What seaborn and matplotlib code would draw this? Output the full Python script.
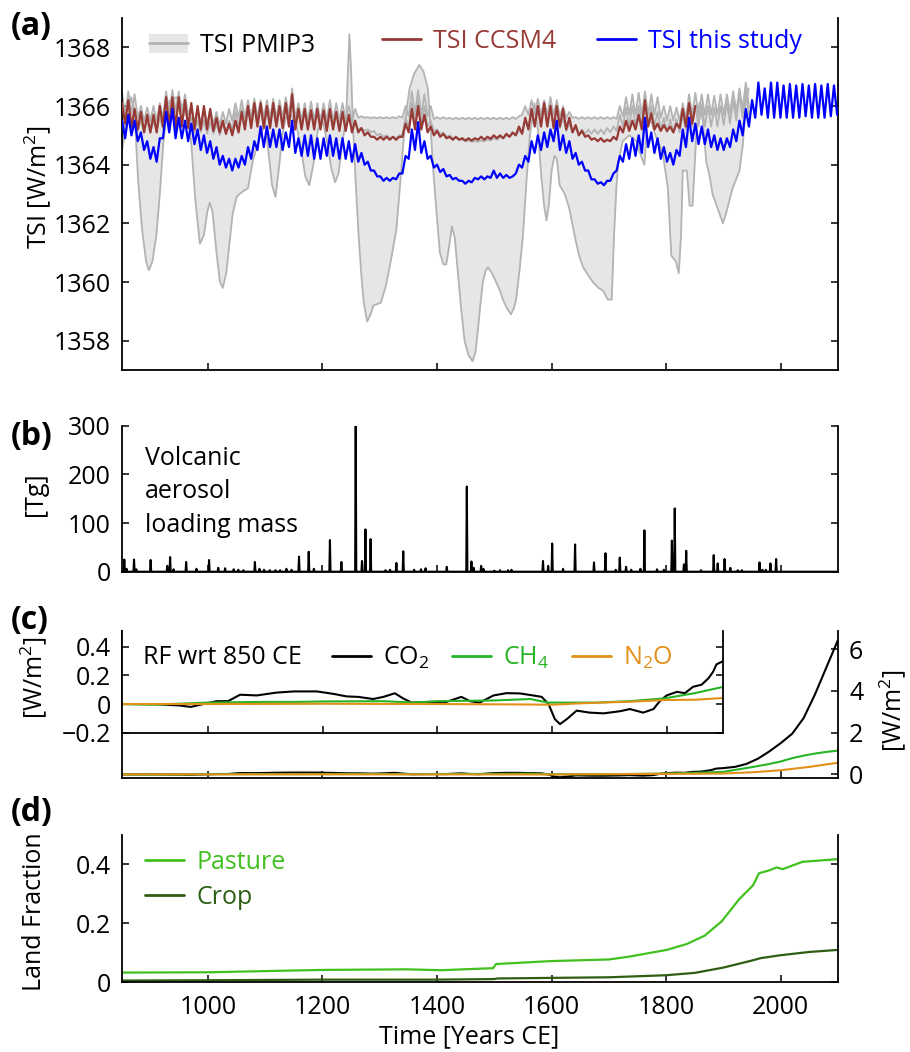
import numpy as np
import matplotlib
matplotlib.use("Agg")
import matplotlib.pyplot as plt
import seaborn as sns
from matplotlib.patches import Patch
from matplotlib.lines import Line2D
from matplotlib.ticker import FixedLocator, FixedFormatter

# ---------------- DATA ----------------
# Panel (a): TSI series sampled every half solar cycle (5.5 yr) starting 850 CE
tsi_study = [1365.5, 1364.9, 1365.7, 1365.0, 1365.5, 1364.8, 1365.1, 1364.5, 1364.8, 1364.2,
             1364.6, 1364.1, 1364.9, 1364.9, 1365.8, 1365.1, 1365.9, 1364.9, 1365.6, 1364.9,
             1365.5, 1364.8, 1365.4, 1364.7, 1365.2, 1364.5, 1365.0, 1364.4, 1364.8, 1364.2,
             1364.6, 1364.0, 1364.3, 1363.9, 1364.2, 1363.8, 1364.2, 1363.9, 1364.3, 1364.0,
             1364.6, 1364.2, 1364.8, 1364.5, 1365.3, 1364.6, 1365.3, 1364.6, 1365.2, 1364.6,
             1365.2, 1364.5, 1365.1, 1364.6, 1365.5, 1364.4, 1364.9, 1364.3, 1365.0, 1364.3,
             1365.0, 1364.2, 1364.9, 1364.2, 1364.9, 1364.3, 1365.0, 1364.3, 1364.9, 1364.2,
             1364.9, 1364.2, 1364.8, 1364.1, 1364.7, 1364.1, 1364.4, 1364.0, 1364.1, 1363.8,
             1363.8, 1363.6, 1363.6, 1363.45, 1363.55, 1363.45, 1363.55, 1363.5, 1363.7, 1363.7,
             1364.3, 1364.2, 1365.2, 1364.5, 1365.45, 1364.4, 1364.8, 1364.2, 1364.3, 1363.9,
             1364.0, 1363.75, 1363.85, 1363.6, 1363.65, 1363.5, 1363.55, 1363.45, 1363.45, 1363.35,
             1363.45, 1363.4, 1363.55, 1363.5, 1363.6, 1363.5, 1363.6, 1363.55, 1363.8, 1363.55,
             1363.7, 1363.55, 1363.65, 1363.55, 1363.6, 1363.7, 1364.0, 1363.9, 1364.3, 1364.1,
             1364.8, 1364.4, 1365.0, 1364.5, 1365.1, 1364.6, 1365.2, 1364.8, 1365.5, 1364.5,
             1365.0, 1364.4, 1364.8, 1364.2, 1364.4, 1364.0, 1364.1, 1363.8, 1363.8, 1363.5,
             1363.5, 1363.35, 1363.4, 1363.3, 1363.45, 1363.45, 1363.7, 1363.8, 1364.3, 1364.1,
             1364.7, 1364.2, 1364.9, 1364.3, 1365.0, 1364.4, 1365.6, 1364.6, 1365.1, 1364.4,
             1364.9, 1364.2, 1364.6, 1364.1, 1364.4, 1364.0, 1364.5, 1364.3, 1365.2, 1364.6,
             1365.6, 1364.8, 1365.4, 1364.7, 1365.3, 1364.7, 1365.2, 1364.6, 1365.0, 1364.5,
             1364.9, 1364.5, 1364.9, 1364.6, 1365.2, 1364.8, 1365.5, 1365.0, 1365.9, 1365.3,
             1366.2, 1365.6, 1366.8, 1365.7, 1366.6, 1365.6, 1366.8, 1365.6, 1366.8, 1365.6,
             1366.7, 1365.6, 1366.75, 1365.6, 1366.7, 1365.6, 1366.75, 1365.65, 1366.7, 1365.6,
             1366.75, 1365.6, 1366.7, 1365.6, 1366.75, 1365.65, 1366.7, 1365.7]

tsi_ccsm4 = [1366.1, 1365.4, 1366.2, 1365.3, 1365.9, 1365.2, 1365.8, 1365.1, 1365.7, 1365.1,
             1365.7, 1365.1, 1366.0, 1365.3, 1366.3, 1365.3, 1366.3, 1365.25, 1366.3, 1365.3,
             1366.2, 1365.25, 1366.1, 1365.2, 1366.0, 1365.2, 1366.0, 1365.2, 1365.9, 1365.15,
             1365.6, 1365.1, 1365.5, 1365.05, 1365.4, 1365.0, 1365.5, 1365.1, 1365.8, 1365.2,
             1366.0, 1365.25, 1366.1, 1365.3, 1366.1, 1365.25, 1366.0, 1365.25, 1366.1, 1365.3,
             1366.0, 1365.25, 1366.1, 1365.3, 1366.4, 1365.2, 1365.9, 1365.2, 1365.9, 1365.2,
             1365.85, 1365.2, 1365.9, 1365.2, 1365.85, 1365.15, 1365.9, 1365.2, 1365.8, 1365.15,
             1365.8, 1365.15, 1365.7, 1365.1, 1365.5, 1365.1, 1365.25, 1365.0, 1365.1, 1364.95,
             1364.95, 1364.85, 1364.95, 1364.85, 1364.95, 1364.85, 1364.95, 1364.85, 1364.95, 1364.95,
             1365.4, 1365.1, 1365.9, 1365.2, 1366.0, 1365.2, 1365.7, 1365.1, 1365.3, 1365.0,
             1365.15, 1364.95, 1365.05, 1364.9, 1364.95, 1364.85, 1364.95, 1364.85, 1364.9, 1364.82,
             1364.9, 1364.82, 1364.9, 1364.85, 1364.95, 1364.85, 1364.95, 1364.88, 1365.0, 1364.9,
             1365.0, 1364.9, 1365.05, 1364.95, 1365.1, 1365.0, 1365.3, 1365.05, 1365.6, 1365.2,
             1365.9, 1365.3, 1366.0, 1365.3, 1366.1, 1365.3, 1366.0, 1365.25, 1366.0, 1365.3,
             1365.9, 1365.2, 1365.6, 1365.1, 1365.35, 1365.0, 1365.15, 1364.95, 1365.0, 1364.85,
             1364.9, 1364.8, 1364.9, 1364.78, 1364.85, 1364.8, 1364.95, 1364.85, 1365.3, 1365.1,
             1365.5, 1365.15, 1365.5, 1365.2, 1365.7, 1365.2, 1366.2, 1365.3, 1365.75, 1365.2,
             1365.4, 1365.15, 1365.35, 1365.15, 1365.3, 1365.1, 1365.4, 1365.25, 1365.9, 1365.3,
             1366.1, 1365.4, 1366.0]

pmip_upper = [1366.45, 1365.7, 1366.5, 1365.75, 1366.4, 1365.6, 1366.0, 1365.5, 1365.95, 1365.5,
              1366.0, 1365.5, 1366.1, 1365.6, 1366.5, 1365.8, 1366.55, 1365.8, 1366.5, 1365.8,
              1366.4, 1365.7, 1366.0, 1365.45, 1365.9, 1365.4, 1365.9, 1365.4, 1365.85, 1365.4,
              1365.8, 1365.35, 1365.8, 1365.4, 1365.9, 1365.5, 1366.1, 1365.6, 1366.2, 1365.6,
              1366.2, 1365.6, 1366.25, 1365.6, 1366.2, 1365.6, 1366.2, 1365.6, 1366.25, 1365.6,
              1366.2, 1365.6, 1366.3, 1365.65, 1366.6, 1365.6, 1366.1, 1365.5, 1366.1, 1365.5,
              1366.15, 1365.5, 1366.1, 1365.5, 1366.1, 1365.5, 1366.2, 1365.5, 1366.1, 1365.5,
              1366.1, 1365.5, 1366.0, 1365.5, 1365.9, 1365.6, 1365.65, 1365.6, 1365.62, 1365.58,
              1365.62, 1365.58, 1365.62, 1365.58, 1365.62, 1365.58, 1365.62, 1365.58, 1365.65, 1365.6,
              1366.0, 1365.65, 1366.5, 1365.7, 1366.55, 1365.7, 1366.4, 1365.65, 1366.0, 1365.56,
              1365.62, 1365.56, 1365.62, 1365.56, 1365.6, 1365.55, 1365.6, 1365.55, 1365.6, 1365.55,
              1365.6, 1365.55, 1365.6, 1365.55, 1365.6, 1365.55, 1365.6, 1365.55, 1365.6, 1365.55,
              1365.6, 1365.55, 1365.6, 1365.55, 1365.62, 1365.56, 1365.65, 1365.7, 1366.0, 1365.7,
              1366.2, 1365.7, 1366.25, 1365.7, 1366.2, 1365.7, 1366.3, 1365.7, 1366.2, 1365.65,
              1366.0, 1365.6, 1365.8, 1365.6, 1365.62, 1365.56, 1365.62, 1365.56, 1365.62, 1365.56,
              1365.62, 1365.56, 1365.62, 1365.56, 1365.62, 1365.56, 1365.62, 1365.56, 1366.0, 1365.65,
              1366.3, 1365.7, 1366.4, 1365.7, 1366.45, 1365.7, 1366.5, 1365.7, 1366.4, 1365.7,
              1366.3, 1365.6, 1366.0, 1365.5, 1366.0, 1365.5, 1365.95, 1365.5, 1366.1, 1365.6,
              1366.4, 1365.7, 1366.45, 1365.7, 1366.4, 1365.7, 1366.4, 1365.7, 1366.35, 1365.7,
              1366.4, 1365.7, 1366.4, 1365.75, 1366.5, 1365.8, 1366.6, 1365.9, 1366.8, 1365.95]

pmip_mid = [1365.6, 1365.2, 1365.65, 1365.2, 1365.6, 1365.15, 1365.5, 1365.1, 1365.5, 1365.1,
            1365.5, 1365.15, 1365.6, 1365.2, 1365.9, 1365.4, 1366.1, 1365.4, 1366.1, 1365.4,
            1366.0, 1365.35, 1365.6, 1365.1, 1365.5, 1365.1, 1365.5, 1365.05, 1365.45, 1365.05,
            1365.4, 1365.0, 1365.4, 1365.05, 1365.5, 1365.2, 1365.8, 1365.3, 1365.9, 1365.3,
            1365.9, 1365.3, 1365.95, 1365.3, 1365.9, 1365.3, 1365.85, 1365.3, 1365.9, 1365.3,
            1365.95, 1365.35, 1366.0, 1365.3, 1366.2, 1365.3, 1365.85, 1365.25, 1365.85, 1365.25,
            1365.9, 1365.25, 1365.85, 1365.25, 1365.8, 1365.25, 1365.85, 1365.25, 1365.8, 1365.2,
            1365.8, 1365.2, 1365.7, 1365.25, 1365.4, 1365.2, 1365.25, 1365.15, 1365.2, 1365.1,
            1365.15, 1365.0, 1365.05, 1364.95, 1365.0, 1364.9, 1364.95, 1364.9, 1365.0, 1365.0,
            1365.6, 1365.3, 1366.1, 1365.4, 1366.2, 1365.4, 1366.0, 1365.3, 1365.5, 1365.15,
            1365.2, 1365.05, 1365.1, 1364.95, 1365.0, 1364.9, 1364.92, 1364.85, 1364.85, 1364.8,
            1364.82, 1364.78, 1364.8, 1364.78, 1364.82, 1364.8, 1364.85, 1364.82, 1364.9, 1364.85,
            1364.95, 1364.9, 1365.0, 1364.95, 1365.05, 1365.0, 1365.15, 1365.1, 1365.5, 1365.25,
            1365.9, 1365.3, 1366.0, 1365.3, 1366.0, 1365.3, 1366.05, 1365.3, 1365.9, 1365.25,
            1365.6, 1365.15, 1365.4, 1365.1, 1365.25, 1365.05, 1365.2, 1365.05, 1365.2, 1365.05,
            1365.2, 1365.05, 1365.2, 1365.05, 1365.25, 1365.1, 1365.3, 1365.15, 1365.7, 1365.3,
            1365.95, 1365.3, 1366.0, 1365.3, 1366.0, 1365.3, 1366.1, 1365.35, 1366.0, 1365.3,
            1365.8, 1365.2, 1365.6, 1365.1, 1365.55, 1365.1, 1365.55, 1365.1, 1365.7, 1365.2,
            1366.0, 1365.3, 1366.0, 1365.3, 1366.05, 1365.3, 1366.0, 1365.3, 1365.95, 1365.3,
            1366.0, 1365.35, 1366.1, 1365.4, 1366.2, 1365.5, 1366.4, 1365.6, 1366.5, 1365.7]

# large-amplitude PMIP3 reconstruction (year, TSI)
pmip_large = [(850, 1364.5), (858, 1365.4), (866, 1366.3), (872, 1365.8), (878, 1363.5), (885, 1361.8),
              (892, 1360.7), (897, 1360.4), (903, 1360.7), (910, 1361.6), (916, 1363.0), (922, 1364.7),
              (928, 1365.8), (934, 1366.2), (945, 1366.3), (955, 1366.0), (965, 1365.6), (971, 1364.7),
              (978, 1362.8), (986, 1361.3), (993, 1361.6), (999, 1362.4), (1003, 1362.7), (1008, 1362.4),
              (1015, 1361.0), (1021, 1360.0), (1026, 1359.8), (1032, 1360.3), (1038, 1361.4), (1043, 1362.3),
              (1050, 1362.9), (1055, 1363.0), (1062, 1363.1), (1070, 1363.2), (1078, 1364.1), (1090, 1364.9),
              (1100, 1365.4), (1107, 1364.2), (1112, 1363.3), (1118, 1362.9), (1124, 1363.9), (1130, 1365.0),
              (1136, 1365.6), (1145, 1365.7), (1155, 1365.3), (1163, 1364.5), (1170, 1363.6), (1177, 1363.3),
              (1184, 1364.0), (1192, 1365.2), (1200, 1365.5), (1208, 1364.8), (1215, 1363.9), (1222, 1363.4),
              (1228, 1363.7), (1235, 1364.8), (1241, 1365.5), (1244, 1367.0), (1247, 1368.45), (1250, 1367.2),
              (1253, 1365.4), (1258, 1363.4), (1263, 1361.6), (1268, 1360.2), (1272, 1359.3), (1278, 1358.65),
              (1284, 1358.9), (1289, 1359.2), (1296, 1359.25), (1302, 1359.3), (1311, 1359.9), (1320, 1360.8),
              (1329, 1361.8), (1335, 1363.2), (1341, 1364.7), (1347, 1365.9), (1352, 1366.6), (1360, 1367.1),
              (1369, 1367.4), (1376, 1367.2), (1384, 1366.6), (1389, 1365.2), (1393, 1363.9), (1399, 1362.4),
              (1405, 1361.0), (1411, 1360.6), (1416, 1360.6), (1421, 1361.2), (1426, 1361.9), (1431, 1361.5),
              (1436, 1360.4), (1442, 1359.1), (1448, 1358.0), (1455, 1357.5), (1462, 1357.3), (1467, 1357.6),
              (1471, 1358.3), (1476, 1359.3), (1480, 1360.0), (1485, 1360.4), (1489, 1360.5), (1496, 1360.3),
              (1503, 1360.0), (1510, 1359.7), (1515, 1359.4), (1522, 1359.1), (1529, 1358.9), (1534, 1359.1),
              (1538, 1359.4), (1544, 1360.4), (1550, 1361.6), (1556, 1363.4), (1562, 1365.0), (1570, 1366.1),
              (1576, 1365.2), (1582, 1363.6), (1587, 1362.6), (1591, 1362.1), (1595, 1362.6), (1600, 1363.8),
              (1605, 1364.3), (1609, 1364.2), (1614, 1363.3), (1623, 1363.0), (1631, 1362.5), (1640, 1361.6),
              (1648, 1360.9), (1655, 1360.5), (1665, 1360.2), (1672, 1360.0), (1682, 1359.8), (1690, 1359.7),
              (1698, 1359.4), (1705, 1359.4), (1709, 1361.6), (1713, 1363.2), (1716, 1364.0), (1724, 1364.8),
              (1736, 1365.0), (1748, 1364.8), (1756, 1364.3), (1762, 1364.0), (1768, 1365.6), (1775, 1365.4),
              (1783, 1364.9), (1794, 1364.4), (1803, 1363.2), (1809, 1360.9), (1817, 1360.7), (1822, 1360.3),
              (1826, 1361.6), (1829, 1363.8), (1836, 1363.8), (1841, 1362.6), (1846, 1362.6), (1852, 1364.8),
              (1858, 1366.1), (1864, 1365.5), (1870, 1364.1), (1876, 1363.6), (1881, 1363.0), (1890, 1362.5),
              (1899, 1362.0), (1904, 1362.3), (1908, 1362.6), (1916, 1363.2), (1928, 1363.8), (1934, 1364.7),
              (1939, 1366.1), (1944, 1366.6)]

# Panel (b): volcanic aerosol loading mass (year, Tg)
volcanic = [(854, 25), (858, 6), (871, 25), (875, 5), (900, 24), (929, 12), (934, 30), (940, 5),
            (962, 20), (980, 6), (1002, 24), (1018, 8), (1030, 7), (1045, 5), (1053, 4), (1062, 3),
            (1082, 20), (1090, 6), (1098, 4), (1108, 3), (1118, 3), (1126, 3), (1137, 6), (1146, 4),
            (1159, 31), (1176, 41), (1185, 6), (1213, 65), (1233, 20), (1258, 300), (1269, 22),
            (1275, 87), (1284, 67), (1310, 3), (1318, 4), (1329, 18), (1341, 42), (1360, 4),
            (1372, 5), (1380, 7), (1417, 10), (1452, 175), (1460, 21), (1464, 8), (1477, 12),
            (1481, 6), (1500, 2), (1510, 3), (1524, 3), (1530, 4), (1585, 22), (1594, 12),
            (1601, 58), (1620, 6), (1641, 56), (1674, 19), (1694, 38), (1712, 4), (1719, 29),
            (1730, 10), (1739, 4), (1755, 6), (1762, 85), (1784, 5), (1796, 4), (1810, 64),
            (1815, 130), (1831, 15), (1835, 43), (1861, 3), (1883, 34), (1890, 17), (1902, 26),
            (1912, 8), (1925, 3), (1932, 3), (1963, 19), (1968, 4), (1974, 4), (1982, 17), (1992, 26)]

# Panel (c): radiative forcing wrt 850 CE [W/m2]
co2_years = [850, 900, 950, 970, 992, 1015, 1035, 1056, 1085, 1120, 1150, 1190, 1220, 1242, 1262,
             1288, 1306, 1326, 1340, 1355, 1387, 1416, 1442, 1457, 1474, 1498, 1521, 1544, 1567,
             1582, 1594, 1605, 1614, 1626, 1643, 1666, 1690, 1719, 1736, 1759, 1777, 1788, 1800,
             1818, 1832, 1846, 1861, 1873, 1881, 1887, 1899, 1920, 1940, 1960, 1980, 2000, 2020,
             2040, 2060, 2080, 2100]
co2_rf = [0.0, 0.0, -0.01, -0.02, 0.0, 0.02, 0.02, 0.065, 0.06, 0.08, 0.088, 0.088, 0.07, 0.053, 0.05,
          0.035, 0.05, 0.075, 0.04, 0.01, 0.015, 0.015, 0.05, 0.02, 0.01, 0.06, 0.076, 0.074, 0.06,
          0.05, 0.0, -0.105, -0.14, -0.105, -0.046, -0.06, -0.065, -0.05, -0.035, -0.06, -0.035, 0.02, 0.06,
          0.085, 0.076, 0.12, 0.135, 0.18, 0.225, 0.277, 0.30, 0.36, 0.5, 0.75, 1.1, 1.5, 1.95,
          2.7, 3.85, 5.15, 6.45]
ch4_years = [850, 900, 1000, 1100, 1155, 1200, 1306, 1358, 1400, 1500, 1562, 1593, 1650, 1678, 1736,
             1797, 1849, 1899, 1950, 1980, 2000, 2020, 2040, 2060, 2080, 2100]
ch4_rf = [0.0, -0.005, 0.01, 0.015, 0.015, 0.018, 0.02, 0.01, 0.02, 0.025, 0.035, 0.01, 0.01, 0.01, 0.02,
          0.04, 0.076, 0.12, 0.35, 0.5, 0.62, 0.78, 0.9, 1.0, 1.08, 1.14]
n2o_years = [850, 1000, 1200, 1400, 1550, 1600, 1650, 1700, 1736, 1797, 1849, 1899, 1950, 2000, 2050, 2100]
n2o_rf = [0.0, 0.0, 0.002, 0.0, -0.003, -0.005, 0.005, 0.012, 0.016, 0.028, 0.03, 0.042, 0.1, 0.2, 0.36, 0.56]

# Panel (d): land use fractions
pasture_years = [850, 1000, 1200, 1347, 1407, 1498, 1503, 1599, 1700, 1735, 1761, 1801, 1836, 1867,
                 1897, 1927, 1952, 1962, 1980, 1993, 2003, 2038, 2100]
pasture = [0.033, 0.034, 0.042, 0.044, 0.041, 0.048, 0.062, 0.072, 0.0775, 0.087, 0.096, 0.11, 0.13,
           0.158, 0.207, 0.281, 0.33, 0.37, 0.38, 0.39, 0.384, 0.409, 0.418]
crop_years = [850, 1000, 1200, 1400, 1500, 1505, 1600, 1700, 1800, 1850, 1900, 1950, 1965, 2000, 2050, 2100]
crop = [0.006, 0.007, 0.009, 0.009, 0.011, 0.013, 0.015, 0.017, 0.024, 0.032, 0.05, 0.074, 0.082,
        0.092, 0.103, 0.11]

year_ticks = [1000, 1200, 1400, 1600, 1800, 2000]

# ---------------- STYLE ----------------
sns.set_theme(style="ticks")
plt.rcParams['font.family'] = ['Open Sans', 'DejaVu Sans']
plt.rcParams.update({
    'mathtext.fontset': 'custom',
    'mathtext.rm': 'Open Sans',
    'mathtext.it': 'Open Sans:italic',
    'mathtext.bf': 'Open Sans:bold',
    'axes.edgecolor': 'black', 'axes.labelcolor': 'black', 'text.color': 'black',
    'xtick.color': 'black', 'ytick.color': 'black', 'axes.linewidth': 1.3,
    'axes.facecolor': 'white',
})

C_FILL = '#e6e6e6'
C_GRAY = '#b3b3b3'
C_BROWN = '#973a36'
C_BLUE = '#0000ff'
C_CH4 = '#27b427'
C_N2O = '#e2901a'
C_PAST = '#41c01f'
C_CROP = '#2d5e12'
FS_TICK = 18
FS_LAB = 18

W, H = 910, 1052
fig = plt.figure(figsize=(W / 100, H / 100), dpi=100)


def rect(l, r, t, b):
    return [l / W, 1 - b / H, (r - l) / W, (b - t) / H]


def style(ax, xlabels=False, right=True):
    ax.spines['top'].set_visible(False)
    ax.tick_params(direction='in', length=5, width=1.1, labelsize=FS_TICK, right=right,
                   top=False, labelbottom=xlabels, pad=8)
    ax.set_xlim(850, 2100)
    ax.xaxis.set_major_locator(FixedLocator(year_ticks))


def line(ax, x, y, color, lw=1.5, z=2):
    sns.lineplot(x=np.asarray(x, float), y=np.asarray(y, float), ax=ax, color=color,
                 linewidth=lw, estimator=None, sort=False, zorder=z)


def place_label(lab, x, y):
    lab.set_position((x, y))
    lab.set_va('center')
    lab.set_ha('center')


# ---------------- (a) TSI ----------------
axa = fig.add_axes(rect(122, 838, 18, 370))
style(axa)
t_study = 850 + 5.5 * np.arange(len(tsi_study))
t_ccsm = 850 + 5.5 * np.arange(len(tsi_ccsm4))
t_up = 850 + 5.5 * np.arange(len(pmip_upper))
t_mid = 850 + 5.5 * np.arange(len(pmip_mid))
big_y = np.array([p[0] for p in pmip_large], float)
big_v = np.array([p[1] for p in pmip_large], float)

grid = np.arange(850, 1945.0, 0.5)
stack = np.vstack([np.interp(grid, t_up, pmip_upper), np.interp(grid, t_mid, pmip_mid),
                   np.interp(grid, big_y, big_v)])
axa.fill_between(grid, stack.min(0), stack.max(0), color=C_FILL, lw=0, zorder=1)
line(axa, big_y, big_v, C_GRAY, 1.3, 2)
line(axa, t_mid, pmip_mid, C_GRAY, 1.3, 2)
line(axa, t_up, pmip_upper, C_GRAY, 1.3, 2)
line(axa, t_ccsm, tsi_ccsm4, C_BROWN, 1.6, 3)
line(axa, t_study, tsi_study, C_BLUE, 1.6, 4)
axa.set_ylim(1357, 1369)
axa.yaxis.set_major_locator(FixedLocator([1358, 1360, 1362, 1364, 1366, 1368]))
axa.set_ylabel('TSI [W/m$^2$]', fontsize=FS_LAB)
axa.yaxis.set_label_coords((38 - 122) / 716, 0.52)
axa.yaxis.label.set_va('center')

leg_kw = dict(frameon=False, fontsize=FS_LAB, handlelength=1.55, handletextpad=0.5,
              borderpad=0, borderaxespad=0, loc='center left')
h1 = (Patch(facecolor=C_FILL, edgecolor='none'), Line2D([], [], color=C_GRAY, lw=2))
lg1 = axa.legend([h1], ['TSI PMIP3'], bbox_to_anchor=((149 - 122) / 716, (370 - 45.5) / 352),
                 handleheight=0.8, **leg_kw)
axa.add_artist(lg1)
lg2 = axa.legend([Line2D([], [], color=C_BROWN, lw=2)], ['TSI CCSM4'],
                 bbox_to_anchor=((382 - 122) / 716, (370 - 41) / 352), **leg_kw)
lg2.get_texts()[0].set_color(C_BROWN)
axa.add_artist(lg2)
lg3 = axa.legend([Line2D([], [], color=C_BLUE, lw=2)], ['TSI this study'],
                 bbox_to_anchor=((597 - 122) / 716, (370 - 41) / 352), **leg_kw)
lg3.get_texts()[0].set_color(C_BLUE)

# ---------------- (b) volcanic ----------------
axb = fig.add_axes(rect(122, 838, 425.7, 571.7))
style(axb)
vyears = np.arange(850, 2101)
vmass = np.zeros(len(vyears))
for yr, m in volcanic:
    vmass[yr - 850] = m
line(axb, vyears, vmass, 'black', 1.5)
axb.set_ylim(0, 300)
axb.yaxis.set_major_locator(FixedLocator([0, 100, 200, 300]))
axb.set_ylabel('[Tg]', fontsize=FS_LAB)
axb.yaxis.set_label_coords((35 - 122) / 716, (571.7 - 494) / 146)
axb.yaxis.label.set_va('center')
for txt, base in [('Volcanic', 465), ('aerosol', 498), ('loading mass', 532)]:
    axb.text((145 - 122) / 716, (571.7 - base) / 146, txt, transform=axb.transAxes,
             fontsize=FS_LAB, va='baseline', ha='left')

# ---------------- (c) GHG forcing ----------------
axc = fig.add_axes(rect(122, 838, 630.7, 778))
style(axc)
axc.tick_params(left=False, labelleft=False, labelright=True)
line(axc, co2_years, co2_rf, 'black', 1.5)
line(axc, ch4_years, ch4_rf, C_CH4, 1.5)
line(axc, n2o_years, n2o_rf, C_N2O, 1.5)
axc.set_ylim(-(778 - 774.4) / 20.85, (774.4 - 630.7) / 20.85)
axc.yaxis.set_major_locator(FixedLocator([0, 2, 4, 6]))
axc.yaxis.set_label_position('right')
axc.set_ylabel('[W/m$^2$]', fontsize=FS_LAB, rotation=90)
axc.yaxis.set_label_coords((893 - 122) / 716, (778 - 711) / 147.3)
axc.yaxis.label.set_va('center')

axi = fig.add_axes(rect(122, 723.3, 630.5, 732.7))
axi.spines['top'].set_visible(False)
axi.tick_params(direction='in', length=5, width=1.1, labelsize=FS_TICK, right=True,
                top=False, labelbottom=False, pad=8)
axi.set_xlim(850, 850 + (723.3 - 122) / 0.5733)
axi.xaxis.set_major_locator(FixedLocator([1000, 1200, 1400, 1600, 1800]))
line(axi, co2_years, co2_rf, 'black', 1.5)
line(axi, ch4_years, ch4_rf, C_CH4, 1.5)
line(axi, n2o_years, n2o_rf, C_N2O, 1.5)
axi.set_ylim(-0.2, 0.4 + 16.2 / 143.3)
axi.yaxis.set_major_locator(FixedLocator([-0.2, 0, 0.2, 0.4]))
axi.yaxis.set_major_formatter(FixedFormatter(['\u22120.2', '0', '0.2', '0.4']))
axi.set_ylabel('[W/m$^2$]', fontsize=FS_LAB)
axi.yaxis.set_label_coords((34 - 122) / 601.3, (732.7 - 678) / 102.2)
axi.yaxis.label.set_va('center')
axi.text((143 - 122) / 601.3, (732.7 - 658) / 102.2, 'RF wrt 850 CE', transform=axi.transAxes,
         fontsize=FS_LAB, va='center', ha='left')
lgc = axi.legend([Line2D([], [], color='black', lw=2), Line2D([], [], color=C_CH4, lw=2),
                  Line2D([], [], color=C_N2O, lw=2)],
                 ['CO$_2$', 'CH$_4$', 'N$_2$O'], ncol=3, columnspacing=0.9,
                 bbox_to_anchor=((332 - 122) / 601.3, (732.7 - 658) / 102.2), **leg_kw)
for t, c in zip(lgc.get_texts(), ['black', C_CH4, C_N2O]):
    t.set_color(c)

# ---------------- (d) land use ----------------
axd = fig.add_axes(rect(122, 838, 835, 982.3))
style(axd, xlabels=True)
axd.tick_params(axis='x', pad=9)
line(axd, pasture_years, pasture, C_PAST, 1.6)
line(axd, crop_years, crop, C_CROP, 1.6)
axd.set_ylim(0, 0.5)
axd.yaxis.set_major_locator(FixedLocator([0, 0.2, 0.4]))
axd.yaxis.set_major_formatter(FixedFormatter(['0', '0.2', '0.4']))
axd.set_ylabel('Land Fraction', fontsize=FS_LAB)
axd.yaxis.set_label_coords((35 - 122) / 716, (982.3 - 912) / 147.3)
axd.yaxis.label.set_va('center')
axd.set_xlabel('Time [Years CE]', fontsize=FS_LAB)
axd.xaxis.set_label_coords((469 - 122) / 716, -(1037 - 982.3) / 147.3)
axd.xaxis.label.set_va('center')
lgd = axd.legend([Line2D([], [], color=C_PAST, lw=2), Line2D([], [], color=C_CROP, lw=2)],
                 ['Pasture', 'Crop'], labelspacing=0.4,
                 bbox_to_anchor=((145 - 122) / 716, (982.3 - 879.7) / 147.3), **leg_kw)
for t, c in zip(lgd.get_texts(), [C_PAST, C_CROP]):
    t.set_color(c)

# ---------------- panel labels ----------------
for lab, yc in [('(a)', 26), ('(b)', 437), ('(c)', 620), ('(d)', 812)]:
    fig.text(11 / W, 1 - yc / H, lab, fontsize=23, fontweight='bold', va='center', ha='left')

fig.savefig('out.png', dpi=100)
